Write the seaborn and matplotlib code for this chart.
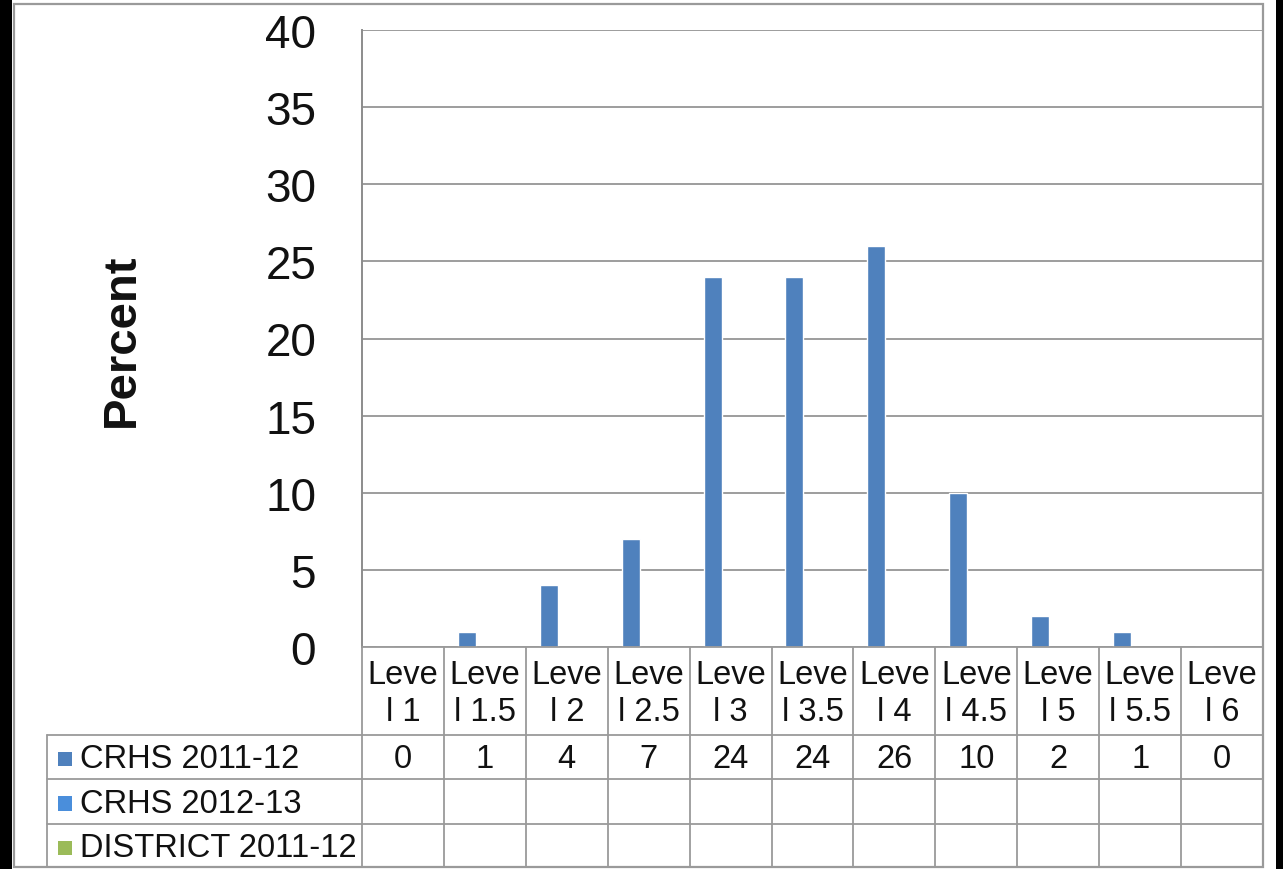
import numpy as np
import pandas as pd
import matplotlib
matplotlib.use("Agg")
import matplotlib.pyplot as plt
import seaborn as sns
from matplotlib.patches import Rectangle
from matplotlib.lines import Line2D

# ---------------- data ----------------
levels = ["Level 1", "Level 1.5", "Level 2", "Level 2.5", "Level 3", "Level 3.5",
          "Level 4", "Level 4.5", "Level 5", "Level 5.5", "Level 6"]
series_names = ["CRHS 2011-12", "CRHS 2012-13", "DISTRICT 2011-12"]
crhs_2011 = [0, 1, 4, 7, 24, 24, 26, 10, 2, 1, 0]
crhs_2012 = [np.nan] * 11
district_2011 = [np.nan] * 11
colors = ["#4F81BD", "#4A8EDB", "#9BBB59"]
yticks = [0, 5, 10, 15, 20, 25, 30, 35, 40]

rows = []
for name, vals in zip(series_names, [crhs_2011, crhs_2012, district_2011]):
    for lv, v in zip(levels, vals):
        rows.append({"level": lv, "series": name, "value": v})
df = pd.DataFrame(rows)

# ---------------- figure ----------------
W, H = 1283, 870
sns.set_theme(style="white")
plt.rcParams["font.family"] = ["Liberation Sans", "DejaVu Sans"]

fig = plt.figure(figsize=(W / 100, H / 100), dpi=100, facecolor="black")

def fx(px):
    return px / W

def fy(py):
    return 1 - py / H

# white sheet + outer gray frame
fig.patches.append(Rectangle((fx(12), 0), fx(1276) - fx(12), 1, transform=fig.transFigure,
                             facecolor="white", edgecolor="none", zorder=-10))
fig.patches.append(Rectangle((fx(14), fy(868)), fx(1263) - fx(14), fy(5) - fy(868),
                             transform=fig.transFigure, facecolor="none",
                             edgecolor="#9a9a9a", linewidth=1.6, zorder=5))

L, R, T, B = 362, 1263, 31, 648
ax = fig.add_axes([fx(L), fy(B), fx(R) - fx(L), fy(T) - fy(B)])
ax.set_facecolor("white")

sns.barplot(data=df, x="level", y="value", hue="series", order=levels,
            hue_order=series_names, palette=colors, width=0.66, gap=0,
            dodge=True, legend=False, ax=ax, errorbar=None, saturation=1)

ax.set_ylim(0, 40)
ax.set_xlim(-0.5, len(levels) - 0.5)
ax.set_yticks(yticks)
ax.set_yticklabels([str(t) for t in yticks], fontsize=33, color="#111111")
ax.tick_params(axis="y", length=0, pad=33)
ax.set_xticks([])
ax.set_xlabel("")
ax.set_ylabel("")
ax.yaxis.grid(True, color="#8c8c8c", linewidth=1.2)
ax.set_axisbelow(True)
for s in ["top", "right", "bottom"]:
    ax.spines[s].set_visible(False)
ax.spines["left"].set_color("#8c8c8c")
ax.spines["left"].set_linewidth(1.4)

fig.text(fx(122), fy(340), "Percent", rotation=90, fontsize=34, fontweight="bold",
         ha="center", va="center", color="#111111")

# ---------------- data table ----------------
lc = "#9a9a9a"
lw = 1.3
colw = (R - L) / len(levels)
row_y = [736, 780, 825, 868]
fs = 23.5

def hline(x0, x1, y):
    fig.lines.append(Line2D([fx(x0), fx(x1)], [fy(y), fy(y)], transform=fig.transFigure,
                            color=lc, linewidth=lw, zorder=4))

def vline(x, y0, y1):
    fig.lines.append(Line2D([fx(x), fx(x)], [fy(y0), fy(y1)], transform=fig.transFigure,
                            color=lc, linewidth=lw, zorder=4))

hline(L, R, B)
for y in row_y[:-1]:
    hline(47, R, y)
for i in range(len(levels) + 1):
    vline(L + i * colw, B, 868)
vline(47, 736, 868)

for i, lv in enumerate(levels):
    cx = L + (i + 0.5) * colw
    fig.text(fx(cx), fy(694), lv[:4] + "\n" + lv[4:], fontsize=fs, ha="center",
             va="center", color="#111111", linespacing=1.25)

all_vals = [crhs_2011, crhs_2012, district_2011]
for r, (name, vals, col) in enumerate(zip(series_names, all_vals, colors)):
    cy = (row_y[r] + row_y[r + 1]) / 2 + 2
    fig.patches.append(Rectangle((fx(58), fy(cy + 7)), fx(72) - fx(58), fy(cy - 7) - fy(cy + 7),
                                 transform=fig.transFigure, facecolor=col,
                                 edgecolor="none", zorder=6))
    fig.text(fx(80), fy(cy), name, fontsize=fs, ha="left", va="center", color="#111111")
    for i, v in enumerate(vals):
        if not np.isnan(v):
            cx = L + (i + 0.5) * colw
            fig.text(fx(cx), fy(cy), f"{int(v)}", fontsize=fs, ha="center",
                     va="center", color="#111111")

fig.savefig("out.png", dpi=100, facecolor=fig.get_facecolor())
